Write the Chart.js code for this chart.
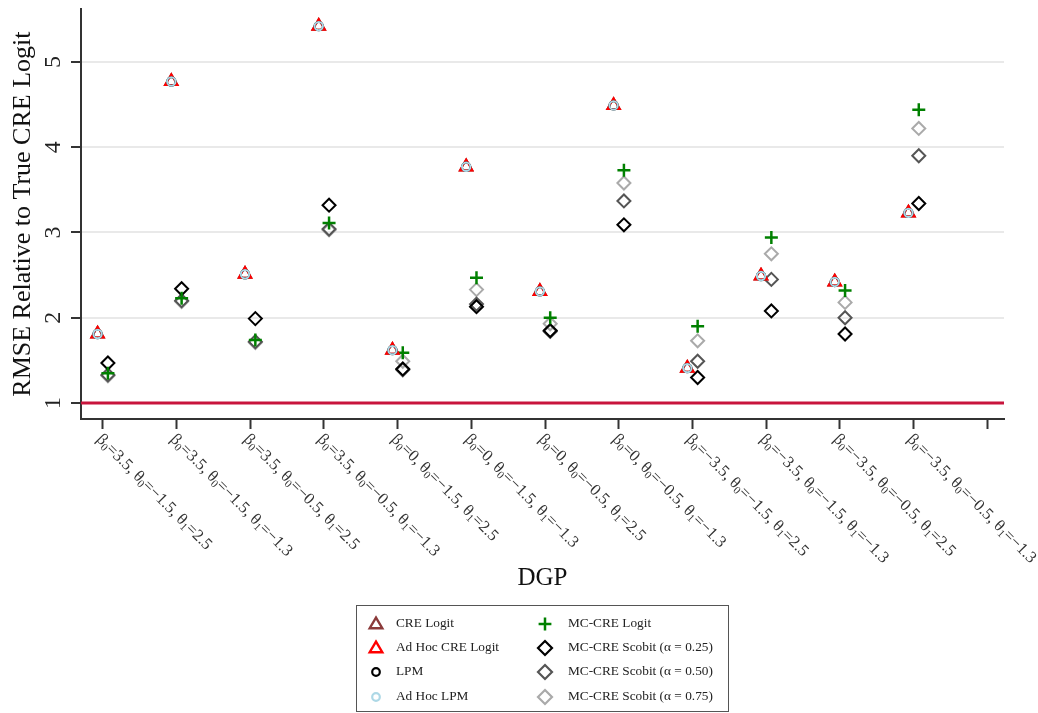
<!DOCTYPE html>
<html>
<head>
<meta charset="utf-8">
<script src="https://cdn.jsdelivr.net/npm/chart.js@4.4.1/dist/chart.umd.min.js"></script>
<style>
  html, body { margin: 0; padding: 0; background: #fff; }
  #wrap { position: relative; width: 1038px; height: 713px; }
  #legend {
    position: absolute; left: 356px; top: 605px; width: 373px; height: 107px;
    box-sizing: border-box; border: 1.5px solid #555;
    font-family: 'Liberation Serif', 'Times New Roman', serif; font-size: 13.3px; color: #222;
  }
  #legend svg, #legend span { position: absolute; }
  #legend span { white-space: nowrap; line-height: 16px; }
</style>
</head>
<body>
<div id="wrap">
  <canvas id="rmseChart" width="1038" height="713"></canvas>
  <div id="legend"></div>
</div>
<script>
/* ── Data ───────────────────────────────────────────────────────────────── */
const dgpLabels = [
  'β_0=3.5, θ_0=−1.5, θ_1=2.5',
  'β_0=3.5, θ_0=−1.5, θ_1=−1.3',
  'β_0=3.5, θ_0=−0.5, θ_1=2.5',
  'β_0=3.5, θ_0=−0.5, θ_1=−1.3',
  'β_0=0, θ_0=−1.5, θ_1=2.5',
  'β_0=0, θ_0=−1.5, θ_1=−1.3',
  'β_0=0, θ_0=−0.5, θ_1=2.5',
  'β_0=0, θ_0=−0.5, θ_1=−1.3',
  'β_0=−3.5, θ_0=−1.5, θ_1=2.5',
  'β_0=−3.5, θ_0=−1.5, θ_1=−1.3',
  'β_0=−3.5, θ_0=−0.5, θ_1=2.5',
  'β_0=−3.5, θ_0=−0.5, θ_1=−1.3',
];
const yTicks = [1, 2, 3, 4, 5];
const refLine = 1;   // true CRE logit

const creLogit  = [1.81, 4.77, 2.51, 5.42, 1.62, 3.77, 2.31, 4.49, 1.41, 2.49, 2.42, 3.23];
const adHocCre  = [1.81, 4.77, 2.51, 5.42, 1.62, 3.77, 2.31, 4.49, 1.41, 2.49, 2.42, 3.23];
const lpm       = [1.81, 4.77, 2.51, 5.42, 1.62, 3.77, 2.31, 4.49, 1.41, 2.49, 2.42, 3.23];
const adHocLpm  = [1.81, 4.77, 2.51, 5.42, 1.62, 3.77, 2.31, 4.49, 1.41, 2.49, 2.42, 3.23];
const mcLogit   = [1.35, 2.23, 1.74, 3.11, 1.59, 2.47, 2.00, 3.73, 1.90, 2.94, 2.32, 4.44];
const scobit25  = [1.47, 2.34, 1.99, 3.32, 1.40, 2.13, 1.85, 3.09, 1.30, 2.08, 1.81, 3.34];
const scobit50  = [1.33, 2.20, 1.72, 3.04, 1.39, 2.16, 1.84, 3.37, 1.49, 2.45, 2.00, 3.90];
const scobit75  = [1.32, 2.19, 1.71, 3.03, 1.49, 2.33, 1.93, 3.58, 1.73, 2.75, 2.18, 4.22];

/* ── Series styling ─────────────────────────────────────────────────────── */
const SERIF = "'Liberation Serif', 'Times New Roman', serif";
const X_MIN = 0.705, X_MAX = 13.226;
const SHIFT = 0.07;   // left group / right group offset around each tick

const series = [
  { name: 'CRE Logit',                values: creLogit, shape: 'triangle', color: '#8b3a3a', side: -1, r: 7.2, w: 2,   order: 3 },
  { name: 'Ad Hoc CRE Logit',         values: adHocCre, shape: 'triangle', color: '#ff0000', side: -1, r: 7.2, w: 2,   order: 2 },
  { name: 'LPM',                      values: lpm,      shape: 'circle',   color: '#000000', side: -1, r: 4.2, w: 2,   order: 1 },
  { name: 'Ad Hoc LPM',               values: adHocLpm, shape: 'circle',   color: '#add8e6', side: -1, r: 4.2, w: 2,   order: 0 },
  { name: 'MC-CRE Logit',             values: mcLogit,  shape: 'cross',    color: '#008000', side:  1, r: 6.5, w: 2.5, order: 4 },
  { name: 'MC-CRE Scobit (α = 0.25)', values: scobit25, shape: 'rectRot',  color: '#000000', side:  1, r: 6.5, w: 2,   order: 5 },
  { name: 'MC-CRE Scobit (α = 0.50)', values: scobit50, shape: 'rectRot',  color: '#555555', side:  1, r: 6.5, w: 2,   order: 6 },
  { name: 'MC-CRE Scobit (α = 0.75)', values: scobit75, shape: 'rectRot',  color: '#aaaaaa', side:  1, r: 6.5, w: 2,   order: 7 },
];

const datasets = series.map(s => ({
  label: s.name,
  data: s.values.map((v, i) => ({ x: i + 1 + s.side * SHIFT, y: v })),
  pointStyle: s.shape,
  pointRadius: s.r,
  pointBorderWidth: s.w,
  borderColor: s.color,
  backgroundColor: 'rgba(0,0,0,0)',
  showLine: false,
  order: s.order,
}));

datasets.push({
  type: 'line',
  label: 'reference',
  data: [{ x: X_MIN, y: refLine }, { x: X_MAX, y: refLine }],
  borderColor: '#c8143c',
  borderWidth: 3,
  pointRadius: 0,
  order: 9,
});

/* ── Rotated tick labels (Stata style) ──────────────────────────────────── */
const stataLabels = {
  id: 'stataLabels',
  afterDraw(chart) {
    const { ctx, scales: { x, y } } = chart;
    ctx.save();
    ctx.fillStyle = '#222';

    // y ticks: rotated 90° counter-clockwise
    ctx.font = `24px ${SERIF}`;
    ctx.textAlign = 'center';
    ctx.textBaseline = 'alphabetic';
    yTicks.forEach(v => {
      ctx.save();
      ctx.translate(y.right - 21, y.getPixelForValue(v));
      ctx.rotate(-Math.PI / 2);
      ctx.fillText(String(v), 0, 0);
      ctx.restore();
    });

    // x ticks: rotated 45° clockwise, with subscripts
    ctx.fillStyle = '#333';
    ctx.textAlign = 'left';
    ctx.textBaseline = 'middle';
    dgpLabels.forEach((lab, i) => {
      ctx.save();
      ctx.translate(x.getPixelForValue(i + 1) - 4, x.top + 18);
      ctx.rotate(Math.PI / 4);
      let cx = 0;
      lab.split(/_(\d)/).forEach((part, j) => {
        const sub = j % 2 === 1;
        ctx.font = sub ? `11px ${SERIF}` : `16.5px ${SERIF}`;
        ctx.fillText(part, cx, sub ? 4 : 0);
        cx += ctx.measureText(part).width;
      });
      ctx.restore();
    });
    ctx.restore();
  }
};

new Chart(document.getElementById('rmseChart'), {
  type: 'scatter',
  data: { datasets },
  plugins: [stataLabels],
  options: {
    responsive: false,
    animation: false,
    layout: { padding: { top: 7, right: 34, left: 0, bottom: 0 } },
    plugins: { legend: { display: false }, tooltip: { enabled: false } },
    scales: {
      x: {
        type: 'linear',
        min: X_MIN, max: X_MAX,
        afterBuildTicks: s => { s.ticks = dgpLabels.map((_, i) => ({ value: i + 1 })).concat([{ value: 13 }]); },
        afterFit: s => { s.height = 294; },
        ticks: { display: false },
        grid: { drawOnChartArea: false, drawTicks: true, tickLength: 10, tickWidth: 2, tickColor: '#333' },
        border: { color: '#333', width: 2 },
        title: {
          display: true, text: 'DGP', color: '#111',
          font: { family: SERIF, size: 25 },
          padding: { top: 0, bottom: 120 },
        },
      },
      y: {
        min: 0.813, max: 5.618,
        afterBuildTicks: s => { s.ticks = yTicks.map(v => ({ value: v })); },
        afterFit: s => { s.width = 81; },
        ticks: { display: false },
        grid: { color: '#e9e9e9', lineWidth: 2, drawTicks: true, tickLength: 10, tickWidth: 2, tickColor: '#333' },
        border: { color: '#333', width: 2 },
        title: {
          display: true, text: 'RMSE Relative to True CRE Logit', color: '#111',
          font: { family: SERIF, size: 26 },
          padding: { top: 7.5, bottom: 0 },
        },
      },
    },
  },
});

/* ── Legend (two columns, column-major like the original) ───────────────── */
function markerSvg(s) {
  const c = s.color;
  let shape;
  if (s.shape === 'triangle') shape = `<polygon points="9,2.6 2.7,13.2 15.3,13.2" fill="none" stroke="${c}" stroke-width="2.4"/>`;
  else if (s.shape === 'circle') shape = `<circle cx="9" cy="9" r="3.8" fill="none" stroke="${c}" stroke-width="2.2"/>`;
  else if (s.shape === 'cross') shape = `<path d="M9 2.6V15.4M2.6 9H15.4" stroke="${c}" stroke-width="2.5"/>`;
  else shape = `<polygon points="9,2 16,9 9,16 2,9" fill="none" stroke="${c}" stroke-width="2.2"/>`;
  return `<svg width="18" height="18" viewBox="0 0 18 18">${shape}</svg>`;
}

const legendEl = document.getElementById('legend');
const rowY = [18, 42, 66, 91];
const colMarkerX = [19, 188];
const colTextX = [39, 211];
legendEl.innerHTML = series.map((s, i) => {
  const col = Math.floor(i / 4), row = i % 4;
  const svg = markerSvg(s).replace('<svg ', `<svg style="left:${colMarkerX[col] - 9}px;top:${rowY[row] - 9}px" `);
  return svg + `<span style="left:${colTextX[col]}px;top:${rowY[row] - 9}px">${s.name}</span>`;
}).join('');
</script>
</body>
</html>
